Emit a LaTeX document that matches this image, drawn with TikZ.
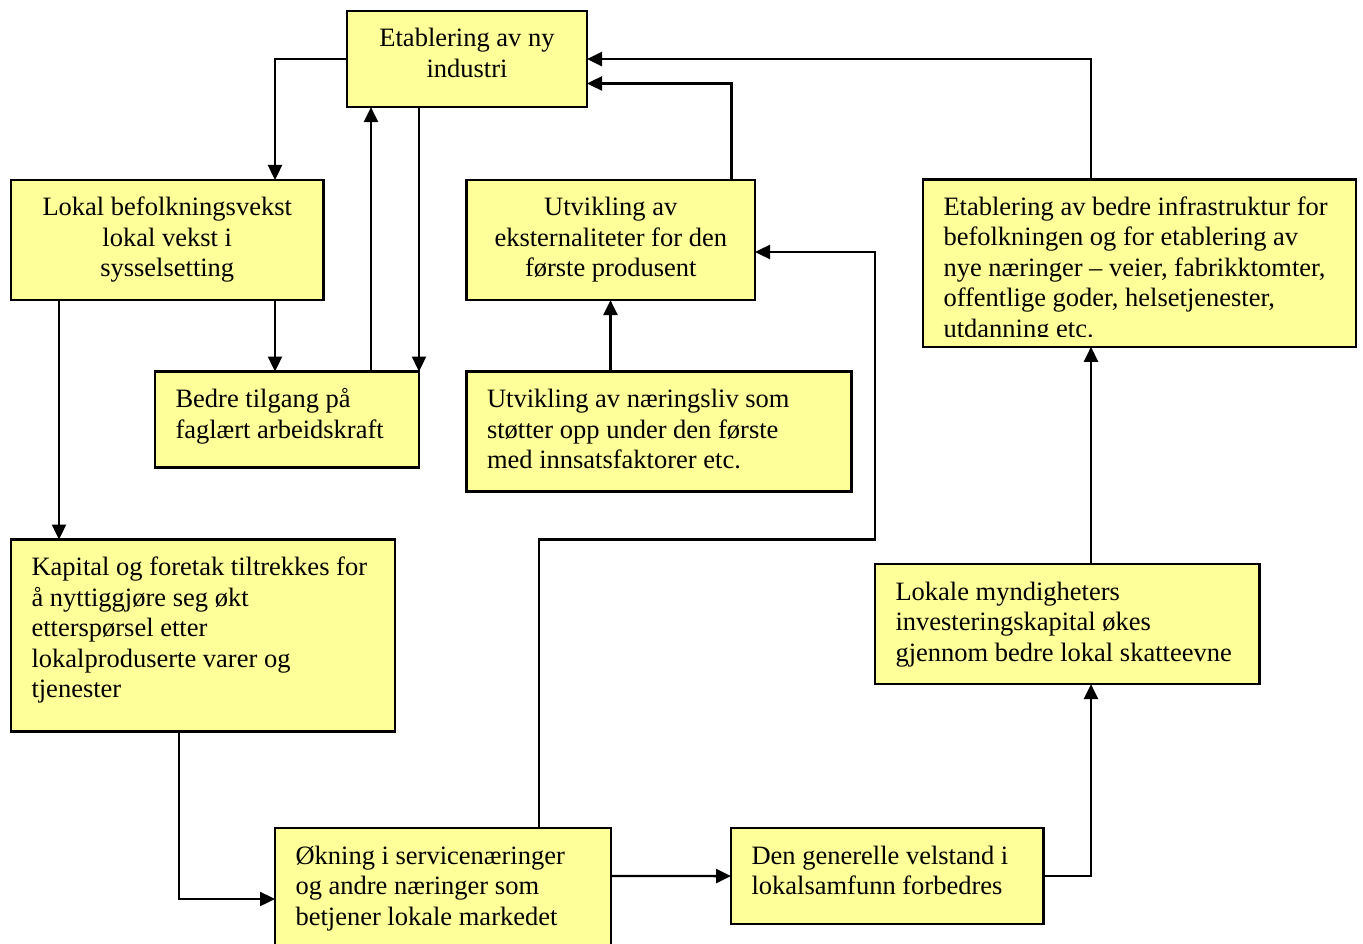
\documentclass[tikz,border=0pt]{standalone}
\usepackage{fontspec}
\setmainfont{Liberation Serif}
\usetikzlibrary{arrows.meta}
\definecolor{lightyellow}{HTML}{FFFF99}

\begin{document}
\begin{tikzpicture}[x=1pt, y=-1pt, line width=2.4pt, >={Triangle[length=15pt, width=14pt]},
	main/.style = {draw, fill=lightyellow, anchor=north west, outer sep=0pt, inner xsep=20.5pt, inner ysep=14.65pt, font=\fontsize{26.5pt}{30.5pt}\selectfont}]
		\useasboundingbox (0,0) rectangle (1363,944);
		\node[main] (1) at (347,11) {\parbox[t][66.8pt][t]{199pt}{\centering\strut Etablering av ny\\ industri}};
		\node[main] (2) at (11,180) {\parbox[t][90.8pt][t]{271.5pt}{\centering\strut Lokal befolkningsvekst\\ lokal vekst i\\ sysselsetting}};
		\node[main] (3) at (155,371.5) {\parbox[t][66.8pt][t]{223pt}{\raggedright\strut Bedre tilgang på\\ faglært arbeidskraft}};
		\node[main] (4) at (466.5,180) {\parbox[t][90.8pt][t]{247.5pt}{\centering\strut Utvikling av\\ eksternaliteter for den\\ første produsent}};
		\node[main] (5) at (466.5,371.5) {\parbox[t][90.8pt][t]{344pt}{\raggedright\strut Utvikling av næringsliv som\\ støtter opp under den første\\ med innsatsfaktorer etc.}};
		\node[main] (6) at (923,179.5) {\parbox[t][138pt][t]{392pt}{\raggedright\strut Etablering av bedre infrastruktur for\\ befolkningen og for etablering av\\ nye næringer – veier, fabrikktomter,\\ offentlige goder, helsetjenester,\\ utdanning etc.}};
		\fill[lightyellow] ([xshift=1.2pt, yshift=1.2pt]6.south west) rectangle ([xshift=-1.2pt, yshift=10pt]6.south east);
		\node[main] (7) at (11,539.5) {\parbox[t][162.8pt][t]{343pt}{\raggedright\strut Kapital og foretak tiltrekkes for\\ å nyttiggjøre seg økt\\ etterspørsel etter\\ lokalproduserte varer og\\ tjenester}};
		\node[main] (8) at (275,828) {\parbox[t][100.8pt][t]{295pt}{\raggedright\strut Økning i servicenæringer\\ og andre næringer som\\ betjener lokale markedet}};
		\node[main] (9) at (731,828) {\parbox[t][66.8pt][t]{271.5pt}{\raggedright\strut Den generelle velstand i\\ lokalsamfunn forbedres}};
		\node[main] (10) at (875,564) {\parbox[t][90.8pt][t]{343.5pt}{\raggedright\strut Lokale myndigheters\\ investeringskapital økes\\ gjennom bedre lokal skatteevne}};
		\draw[->] (1.west) -| ([xshift=264pt]2.north west);
		\draw[->] ([xshift=264pt]2.south west) -- ([xshift=264pt]2.south west |- 3.north);
		\draw[->] ([xshift=216pt]3.north west) -- ([xshift=216pt]3.north west |- 1.south);
		\draw[->] ([xshift=72pt]1.south west) -- ([xshift=72pt]1.south west |- 3.north);
		\draw[->] ([xshift=48pt]2.south west) -- ([xshift=48pt]2.south west |- 7.north);
		\draw[->] ([xshift=168pt]7.south west) |- ([yshift=-71pt]8.north west);
		\draw[->] ([yshift=-48pt]8.north east) -- (9.west);
		\draw[->] (9.east) -| ([xshift=216pt]10.south west);
		\draw[->] ([xshift=216pt]10.north west) -- ([xshift=216pt]10.north west |- 6.south);
		\draw[->] ([xshift=168pt]6.north west) |- (1.east);
		\draw[->] ([xshift=265pt]4.north west) |- ([yshift=-72.5pt]1.north east);
		\draw[->] ([xshift=144pt]5.north west) -- ([xshift=144pt]5.north west |- 4.south);
		\draw[->] ([xshift=264pt]8.north west) |- (10.west |- 7.north) |- ([yshift=-72pt]4.north east);
\end{tikzpicture}
\end{document}
